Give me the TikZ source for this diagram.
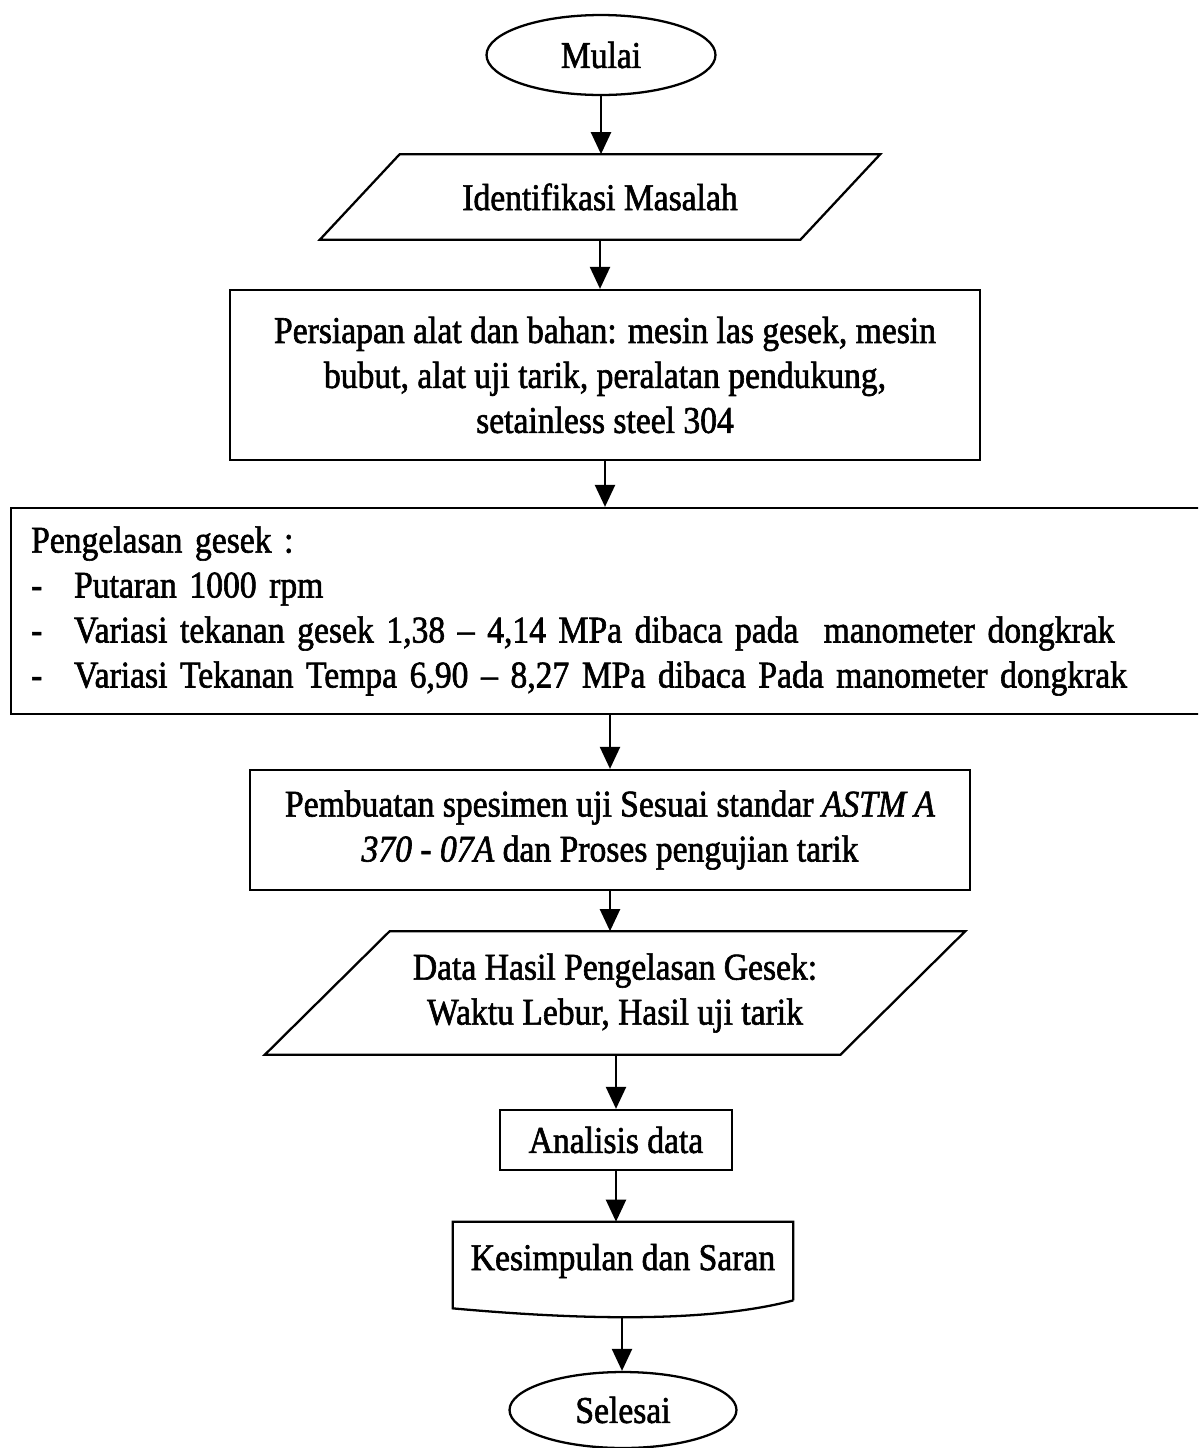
\documentclass[tikz,border=0pt]{standalone}
\usepackage{fontspec}
\setmainfont{Liberation Serif}[FakeStretch=0.89, FakeBold=1.6]
\usetikzlibrary{arrows.meta, positioning, shapes.geometric, calc}
\tikzset{
  term/.style    = {ellipse, draw, line width=1.3pt, minimum width=4.58cm, minimum height=1.6cm},
  box/.style     = {draw, line width=1.3pt, align=center, inner sep=0pt},
  io/.style      = {align=center, inner sep=0pt},
  outline/.style = {line width=1.3pt},
  arrow/.style   = {-{Triangle[length=4.4mm, width=4mm]}, line width=1.3pt},
}

\begin{document}
\begin{tikzpicture}[x=0.02cm, y=-0.02cm, font=\fontsize{21.5}{25.6}\selectfont]
  \clip (0,0) rectangle (1198,1448);
  % steps of the flow
  \node[term] (mulai) at (601,55) {Mulai};
  \node[io, minimum width=11.2cm, minimum height=1.7cm] (ident) at (600,197) {Identifikasi Masalah};
  \node[box, minimum width=15cm, minimum height=3.4cm] (siap) at (605,375)
    {Persiapan alat dan bahan: mesin las gesek, mesin\\ bubut, alat uji tarik, peralatan pendukung,\\ setainless steel 304};
  \node[box, anchor=west, text width=23.4cm, inner xsep=0.4cm, minimum height=4.12cm, align=left] (gesek) at (10,611)
    {Pengelasan gesek :\\
     \makebox[0.86cm][l]{-}Putaran 1000 rpm\\
     \makebox[0.86cm][l]{-}Variasi tekanan gesek 1,38 -- 4,14 MPa dibaca pada \ manometer dongkrak\\
     \makebox[0.86cm][l]{-}Variasi Tekanan Tempa 6,90 -- 8,27 MPa dibaca Pada manometer dongkrak};
  \node[box, minimum width=14.4cm, minimum height=2.4cm] (buat) at (610,830)
    {Pembuatan spesimen uji Sesuai standar \textit{ASTM A}\\ \textit{370 - 07A} dan Proses pengujian tarik};
  \node[io, minimum width=14cm, minimum height=2.46cm] (data) at (615,993)
    {Data Hasil Pengelasan Gesek:\\ Waktu Lebur, Hasil uji tarik};
  \node[box, minimum width=4.64cm, minimum height=1.2cm] (analisis) at (616,1140) {Analisis data};
  \node[io, minimum width=6.8cm, minimum height=1.56cm] (simpul) at (623,1261) {Kesimpulan dan Saran};
  \coordinate (simpulB) at (622,1317);
  \node[term, minimum width=4.54cm, minimum height=1.52cm] (selesai) at (623,1410) {Selesai};

  % input/output and document outlines
  \foreach \n/\s in {ident/80, data/125}
    \draw[outline] (\n.south west) -- ($(\n.north west)+(\s,0)$) -- (\n.north east)
      -- ($(\n.south east)-(\s,0)$) -- cycle;
  \draw[outline] (simpul.south east) -- (simpul.north east) -- (simpul.north west)
    -- ($(simpul.south west)+(0,8)$) .. controls (560,1318) and (700,1325) .. (simpul.south east);

  % connectors
  \draw[arrow] (mulai.south) -- (mulai.south |- ident.north);
  \draw[arrow] (ident.south) -- (ident.south |- siap.north);
  \draw[arrow] (siap.south) -- (siap.south |- gesek.north);
  \draw[arrow] (buat.north |- gesek.south) -- (buat.north);
  \draw[arrow] (buat.south) -- (buat.south |- data.north);
  \draw[arrow] (analisis.north |- data.south) -- (analisis.north);
  \draw[arrow] (analisis.south) -- (analisis.south |- simpul.north);
  \draw[arrow] (simpulB) -- (simpulB |- selesai.north);
\end{tikzpicture}
\end{document}
